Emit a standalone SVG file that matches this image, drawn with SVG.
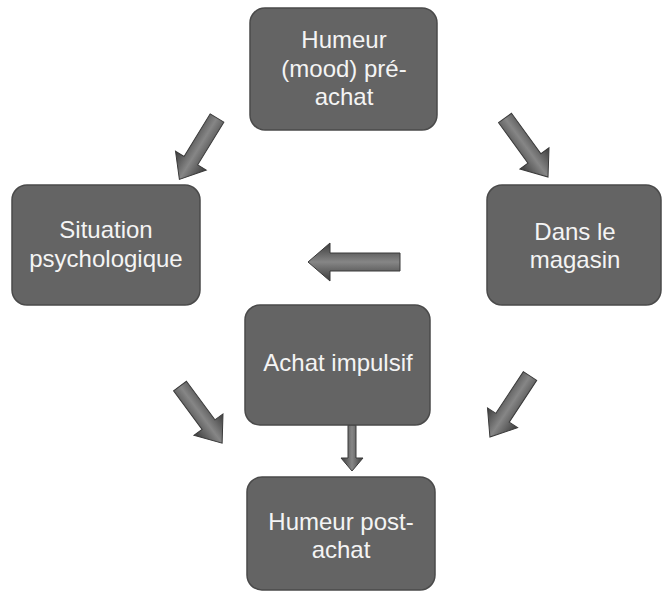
<svg xmlns="http://www.w3.org/2000/svg" width="664" height="593" viewBox="0 0 664 593">
  <style>
    .box { fill: #646464; stroke: #4a4a4a; stroke-width: 1.5; }
    .lbl { font-family: "Liberation Sans", Arial, sans-serif; font-size: 24px; fill: #f4f4f4; text-anchor: middle; }
    .arrow { fill: url(#arrowShade); stroke: #3a3a3a; stroke-width: 1; }
  </style>
  <defs>
    <!-- shading across the width of a block arrow, darker at the edges -->
    <linearGradient id="arrowShade" x1="0" y1="0" x2="0" y2="1">
      <stop offset="0" stop-color="#3c3c3c"/>
      <stop offset="0.5" stop-color="#868686"/>
      <stop offset="1" stop-color="#3c3c3c"/>
    </linearGradient>
  </defs>

  <rect width="664" height="593" fill="#ffffff"/>

  <g id="connectors">
    <!-- block arrows drawn pointing right, then placed and rotated -->
    <path class="arrow" transform="translate(217,118) rotate(121.5)" d="M0,-8 L50,-8 L50,-18 L72,0 L50,18 L50,8 L0,8 Z"/>
    <path class="arrow" transform="translate(505,118) rotate(53.9)" d="M0,-8 L50,-8 L50,-18 L73,0 L50,18 L50,8 L0,8 Z"/>
    <path class="arrow" transform="translate(400,262) rotate(180)" d="M0,-9 L70,-9 L70,-19 L92,0 L70,19 L70,9 L0,9 Z"/>
    <path class="arrow" transform="translate(180,386) rotate(53.6)" d="M0,-8 L48,-8 L48,-18 L71,0 L48,18 L48,8 L0,8 Z"/>
    <path class="arrow" transform="translate(530,376) rotate(123.3)" d="M0,-8 L50,-8 L50,-18 L73,0 L50,18 L50,8 L0,8 Z"/>
    <path class="arrow" transform="translate(352,425) rotate(90)" d="M0,-4 L33,-4 L33,-11 L46,0 L33,11 L33,4 L0,4 Z"/>
  </g>

  <g id="humeur-pre-achat">
    <rect class="box" x="250" y="8" width="187" height="122" rx="15"/>
    <text class="lbl" x="344" y="48">Humeur</text>
    <text class="lbl" x="344" y="77">(mood) pré-</text>
    <text class="lbl" x="344" y="105">achat</text>
  </g>

  <g id="situation-psychologique">
    <rect class="box" x="12" y="185" width="188" height="120" rx="15"/>
    <text class="lbl" x="106" y="238">Situation</text>
    <text class="lbl" x="106" y="267">psychologique</text>
  </g>

  <g id="dans-le-magasin">
    <rect class="box" x="487" y="185" width="174" height="120" rx="15"/>
    <text class="lbl" x="575" y="240">Dans le</text>
    <text class="lbl" x="575" y="268">magasin</text>
  </g>

  <g id="achat-impulsif">
    <rect class="box" x="245" y="305" width="185" height="120" rx="15"/>
    <text class="lbl" x="338" y="371">Achat impulsif</text>
  </g>

  <g id="humeur-post-achat">
    <rect class="box" x="247" y="477" width="188" height="113" rx="15"/>
    <text class="lbl" x="341" y="530">Humeur post-</text>
    <text class="lbl" x="341" y="558">achat</text>
  </g>
</svg>
